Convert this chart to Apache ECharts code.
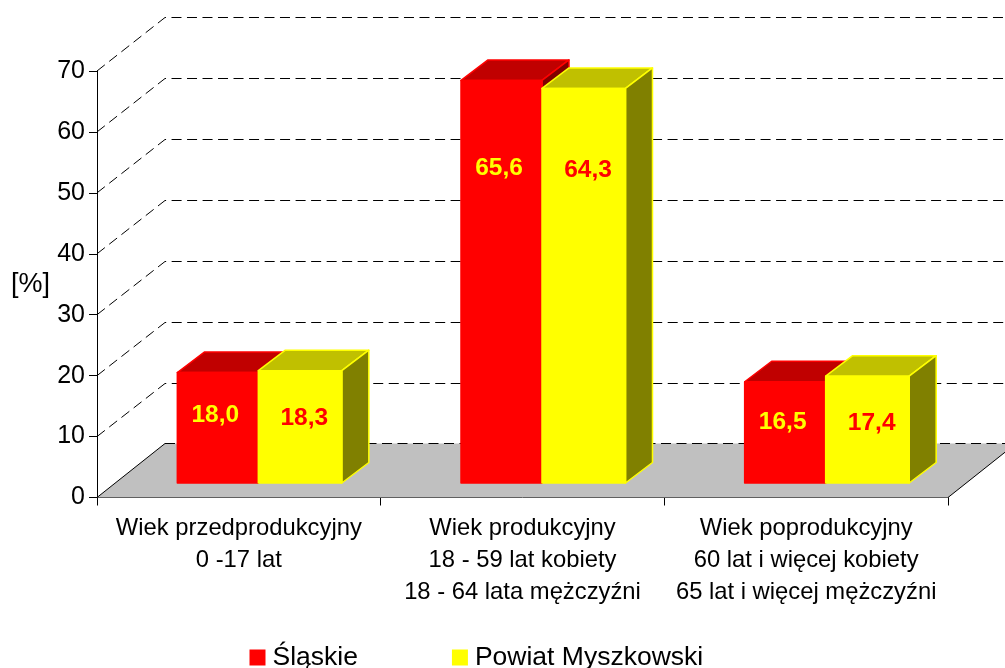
<!DOCTYPE html>
<html>
<head>
<meta charset="utf-8">
<style>
html, body { margin: 0; padding: 0; background: #fff; }
#chartDiv { width: 1005px; height: 668px; }
</style>
<script src="https://cdn.jsdelivr.net/npm/echarts@6/dist/echarts.min.js"></script>
</head>
<body>
<div id="chartDiv"></div>
<script>
var categories = [
    'Wiek przedprodukcyjny\n0 -17 lat',
    'Wiek produkcyjny\n18 - 59 lat kobiety\n18 - 64 lata mężczyźni',
    'Wiek poprodukcyjny\n60 lat i więcej kobiety\n65 lat i więcej mężczyźni'
];
var slaskie = [18.0, 65.6, 16.5];
var powiat = [18.3, 64.3, 17.4];
var gridTicks = [10, 20, 30, 40, 50, 60, 70];

var fontName = '"Liberation Sans", Arial, sans-serif';

// przesuniecie tylnej sciany wykresu 3D
var depthX = 68;
var depthY = 54;
var barFrontX = 19.5; // odsuniecie slupka od przodu podlogi
var barFrontY = 14.5;
var barDepthX = 27;
var barDepthY = 20.5;

var myChart = echarts.init(document.getElementById('chartDiv'));

function bandLeft(api) {
    return api.coord([0, 0])[0] - api.size([1, 0])[0] / 2;
}

function poly(points, fill, stroke) {
    return {
        type: 'polygon',
        shape: {points: points},
        style: {fill: fill, stroke: stroke, lineWidth: 1.5, lineJoin: 'round'}
    };
}

function renderFloor(params, api) {
    var left = bandLeft(api);
    var right = left + api.size([1, 0])[0] * categories.length;
    var y = api.coord([0, 0])[1];
    return {
        type: 'group',
        children: [
            poly([[left, y], [left + depthX, y - depthY], [right + depthX, y - depthY], [right, y]], '#c0c0c0', 'none'),
            {type: 'line', shape: {x1: left, y1: y, x2: left + depthX, y2: y - depthY}, style: {stroke: '#000', lineWidth: 1}},
            {type: 'line', shape: {x1: right, y1: y, x2: right + depthX, y2: y - depthY}, style: {stroke: '#000', lineWidth: 1}},
            {type: 'line', shape: {x1: left + depthX, y1: y - depthY, x2: right + depthX, y2: y - depthY}, style: {stroke: '#000', lineWidth: 1, lineDash: [10, 5.5]}}
        ]
    };
}

function renderGridLine(params, api) {
    var left = bandLeft(api);
    var right = left + api.size([1, 0])[0] * categories.length;
    var y = api.coord([0, api.value(0)])[1];
    var backY = Math.round(y - depthY) + 0.5;
    return {
        type: 'polyline',
        shape: {points: [[left, y], [left + depthX, backY], [right + depthX, backY]]},
        style: {fill: 'none', stroke: '#000', lineWidth: 1, lineDash: [10, 5.5]}
    };
}

function makeRenderBar(widthFront, isLeft, front, top, dark, labelColor, labelShift, labelK, labelC) {
    return function (params, api) {
        var cat = api.value(0);
        var val = api.value(1);
        var center = api.coord([cat, 0]);
        var boundary = center[0] + barFrontX;
        var x0 = isLeft ? boundary - widthFront : boundary;
        var x1 = x0 + widthFront;
        var yb = center[1] - barFrontY;
        var yt = api.coord([cat, val])[1] - barFrontY;
        var labelY = api.coord([cat, val * labelK + labelC])[1] + 2;
        return {
            type: 'group',
            children: [
                poly([[x0, yt], [x0 + barDepthX, yt - barDepthY], [x1 + barDepthX, yt - barDepthY], [x1, yt]], top, front),
                poly([[x1, yt], [x1 + barDepthX, yt - barDepthY], [x1 + barDepthX, yb - barDepthY], [x1, yb]], dark, front),
                poly([[x0, yt], [x1, yt], [x1, yb], [x0, yb]], front, front),
                {
                    type: 'text',
                    style: {
                        x: boundary + labelShift,
                        y: labelY,
                        text: val.toFixed(1).replace('.', ','),
                        align: 'center',
                        verticalAlign: 'middle',
                        fill: labelColor,
                        font: 'bold 24.5px ' + fontName
                    }
                }
            ]
        };
    };
}

var option = {
    animation: false,
    backgroundColor: '#fff',
    textStyle: {fontFamily: fontName},
    grid: {left: 97, right: 57, top: 71, height: 426.5, containLabel: false},
    legend: {
        left: 249.5,
        top: 644,
        padding: 0,
        itemWidth: 16,
        itemHeight: 16,
        itemGap: 94,
        icon: 'rect',
        data: ['Śląskie', 'Powiat Myszkowski'],
        textStyle: {fontFamily: fontName, fontSize: 26.5, color: '#000', padding: [0, 0, 0, 2]}
    },
    xAxis: {
        type: 'category',
        data: categories,
        axisLine: {lineStyle: {color: '#000', width: 1}},
        axisTick: {show: true, length: 8, lineStyle: {color: '#000'}},
        axisLabel: {
            color: '#000',
            fontFamily: fontName,
            fontSize: 23.8,
            lineHeight: 32,
            margin: 15,
            interval: 0
        }
    },
    yAxis: [
        {
            type: 'value',
            min: 0,
            max: 70,
            interval: 10,
            name: '[%]',
            nameLocation: 'middle',
            nameRotate: 0,
            nameGap: 47,
            nameTextStyle: {fontFamily: fontName, fontSize: 27, color: '#000', padding: [0, 0, 12, 0]},
            axisLine: {show: true, onZero: false, lineStyle: {color: '#000', width: 1}},
            axisTick: {show: true, length: 8, lineStyle: {color: '#000'}},
            axisLabel: {color: '#000', fontFamily: fontName, fontSize: 25, margin: 12, padding: [3, 0, 0, 0]},
            splitLine: {show: false}
        },
        // slupki w oryginale rysowane sa w minimalnie innej skali niz os
        {type: 'value', min: 0, max: 69.5, show: false, splitLine: {show: false}}
    ],
    series: [
        {
            name: 'floor',
            type: 'custom',
            z: 1,
            silent: true,
            renderItem: renderFloor,
            data: [[0]],
            encode: {x: -1, y: -1}
        },
        {
            name: 'grid',
            type: 'custom',
            z: 2,
            silent: true,
            renderItem: renderGridLine,
            data: gridTicks.map(function (v) { return [v]; }),
            encode: {x: -1, y: 0}
        },
        {
            name: 'Śląskie',
            type: 'custom',
            z: 3,
            yAxisIndex: 1,
            itemStyle: {color: '#ff0000'},
            renderItem: makeRenderBar(81, true, '#ff0000', '#c00000', '#800000', '#ffff00', -43, 0.845, -1.4),
            data: slaskie.map(function (v, i) { return [i, v]; }),
            encode: {x: 0, y: 1}
        },
        {
            name: 'Powiat Myszkowski',
            type: 'custom',
            z: 4,
            yAxisIndex: 1,
            itemStyle: {color: '#ffff00'},
            renderItem: makeRenderBar(83.5, false, '#ffff00', '#c0c000', '#808000', '#ff0000', 46, 0.878, -2.8),
            data: powiat.map(function (v, i) { return [i, v]; }),
            encode: {x: 0, y: 1}
        }
    ]
};
myChart.setOption(option);
window.onresize = myChart.resize;
</script>
</body>
</html>
